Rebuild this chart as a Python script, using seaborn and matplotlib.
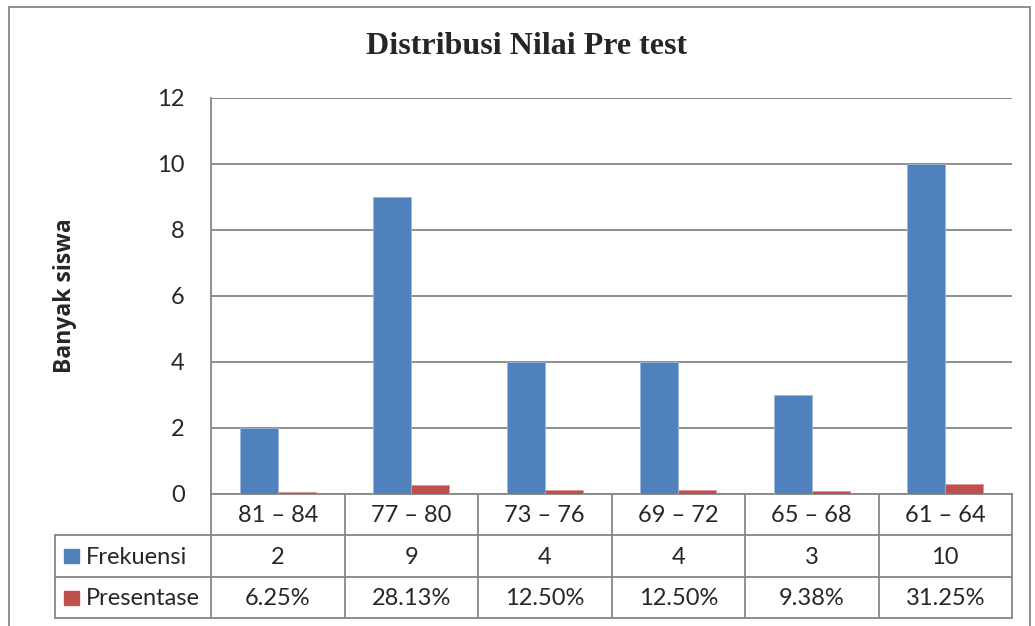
import matplotlib
matplotlib.use('Agg')
import matplotlib.pyplot as plt
import matplotlib.transforms as mtransforms
from matplotlib.patches import Rectangle
import pandas as pd
import seaborn as sns

# data
kategori = ["81 – 84", "77 – 80", "73 – 76", "69 – 72", "65 – 68", "61 – 64"]
frekuensi = [2, 9, 4, 4, 3, 10]
presentase = [0.0625, 0.2813, 0.1250, 0.1250, 0.0938, 0.3125]
seri = ["Frekuensi", "Presentase"]
warna = ["#4F81BD", "#C0504D"]
yticks = [0, 2, 4, 6, 8, 10, 12]

df = pd.DataFrame({
    "kategori": kategori * 2,
    "nilai": frekuensi + presentase,
    "seri": [seri[0]] * len(kategori) + [seri[1]] * len(kategori),
})
teks_tabel = [[str(v) for v in frekuensi], [f"{v * 100:.2f}%" for v in presentase]]

sns.set_style("white")
plt.rcParams['font.family'] = ['Lato', 'DejaVu Sans']
W, H = 1035, 626
fig = plt.figure(figsize=(W / 100, H / 100), dpi=100)

def fx(px): return px / W
def fy(py): return 1 - py / H

# pixel layout of plot area
x0, x1, ytop, ybot = 211, 1012, 98, 494
ax = fig.add_axes([fx(x0), fy(ybot), fx(x1) - fx(x0), fy(ytop) - fy(ybot)])

sns.barplot(data=df, x="kategori", y="nilai", hue="seri", palette=warna, saturation=1,
            width=0.57, ax=ax, legend=False, edgecolor="#9DB6DA", linewidth=0.6, zorder=3)
for p in ax.patches[len(kategori):]:
    p.set_edgecolor("#D99694")

grid_c = "#868686"
fs = 17
ax.set_ylim(0, 12)
ax.set_xlim(-0.5, len(kategori) - 0.5)
ax.set_yticks(yticks)
ax.yaxis.grid(True, color=grid_c, linewidth=1.3, zorder=0)
ax.tick_params(axis='y', length=0, pad=19, labelsize=fs)
ax.set_xticks([])
ax.set_xlabel("")
ax.set_ylabel("Banyak siswa", fontsize=16.5, fontweight='bold',
              family=['Open Sans', 'DejaVu Sans'])
ax.yaxis.set_label_coords(-0.167, 0.5)
for s in ["top", "right"]:
    ax.spines[s].set_visible(False)
for s in ["left", "bottom"]:
    ax.spines[s].set_color(grid_c)
    ax.spines[s].set_linewidth(1.3)

fig.text(fx(527), fy(47), "Distribusi Nilai Pre test", ha='center', va='center',
         fontsize=23, fontweight='bold', family=['Liberation Serif', 'DejaVu Serif'])

# data table below the axis
row_y = [494, 535, 577, 618]
lk = dict(color=grid_c, linewidth=1.3, clip_on=False)
trans = mtransforms.blended_transform_factory(ax.transData, fig.transFigure)
for i in range(len(kategori) + 1):
    ax.plot([i - 0.5, i - 0.5], [fy(row_y[0]), fy(row_y[3])], transform=trans, **lk)
for yy in row_y[1:]:
    fig.add_artist(plt.Line2D([fx(55), fx(x1)], [fy(yy), fy(yy)], color=grid_c, linewidth=1.3))
fig.add_artist(plt.Line2D([fx(55), fx(55)], [fy(row_y[1]), fy(row_y[3])], color=grid_c, linewidth=1.3))

for i, k in enumerate(kategori):
    ax.text(i, fy((row_y[0] + row_y[1]) / 2 + 1), k, transform=trans, ha='center', va='center', fontsize=fs)
    for r in range(2):
        ax.text(i, fy((row_y[r + 1] + row_y[r + 2]) / 2 + 1), teks_tabel[r][i], transform=trans,
                ha='center', va='center', fontsize=fs)
for r in range(2):
    yc = (row_y[r + 1] + row_y[r + 2]) / 2
    fig.add_artist(Rectangle((fx(64), fy(yc + 7)), fx(15), 14 / H, color=warna[r]))
    fig.text(fx(86), fy(yc + 1), seri[r], ha='left', va='center', fontsize=fs)

# outer chart border
fig.add_artist(Rectangle((fx(9), fy(H + 5)), fx(1030 - 9), (H + 5 - 7) / H,
                         fill=False, edgecolor=grid_c, linewidth=1.3))

fig.savefig("out.png", dpi=100)
